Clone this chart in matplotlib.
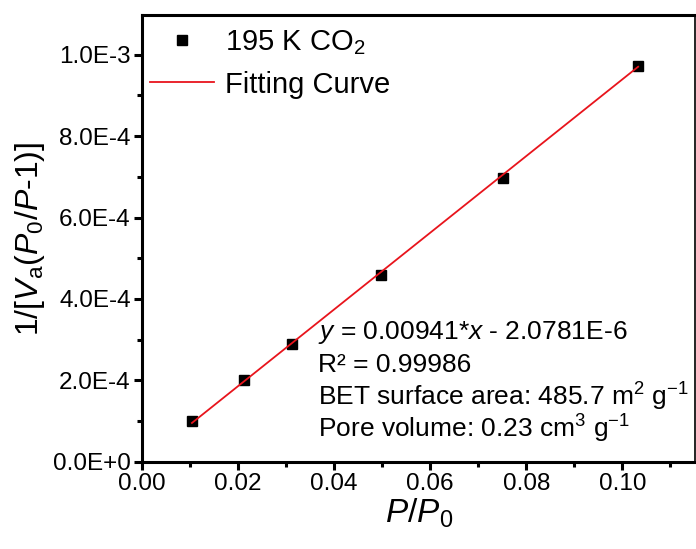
import numpy as np
import matplotlib
matplotlib.use("agg")
import matplotlib.pyplot as plt
from matplotlib.ticker import FuncFormatter, MultipleLocator, AutoMinorLocator

plt.rcParams['font.family'] = ['Liberation Sans', 'DejaVu Sans']
plt.rcParams['mathtext.fontset'] = 'custom'
plt.rcParams['mathtext.rm'] = 'Liberation Sans'
plt.rcParams['mathtext.it'] = 'Liberation Sans:italic'
plt.rcParams['mathtext.bf'] = 'Liberation Sans:bold'

# BET data
p_rel = [0.0104, 0.0213, 0.0313, 0.0498, 0.0752, 0.1033]
bet_y = [1.00e-4, 2.00e-4, 2.90e-4, 4.58e-4, 6.97e-4, 9.72e-4]

slope = 0.00941
intercept = -2.0781e-6

annot_lines = [
    '$y$ = 0.00941*$x$ - 2.0781E-6',
    'R\u00b2 = 0.99986',
    'BET surface area: 485.7 m$^{2}$ g$^{-1}$',
    'Pore volume: 0.23 cm$^{3}$ g$^{-1}$',
]


def sci_fmt(v, pos):
    if abs(v) < 1e-12:
        return '0.0E+0'
    exp = int(np.floor(np.log10(abs(v)) + 1e-9))
    mant = v / 10 ** exp
    return '%.1fE%d' % (mant, exp)


fig = plt.figure(figsize=(6.96, 5.49), dpi=100)
ax = fig.add_axes([0.204, 0.1585, 0.795, 0.8142])

xfit = np.array([p_rel[0], p_rel[-1]])
ax.plot(p_rel, bet_y, 's', color='black', markersize=7, label='195 K CO$_2$', zorder=2)
ax.plot(xfit, slope * xfit + intercept, '-', color='#e8141c', lw=1.3,
        label='Fitting Curve', zorder=3)

ax.set_xlim(0, 0.1152)
ax.set_ylim(0, 1.097e-3)
ax.xaxis.set_major_locator(MultipleLocator(0.02))
ax.xaxis.set_minor_locator(AutoMinorLocator(2))
ax.yaxis.set_major_locator(MultipleLocator(2e-4))
ax.yaxis.set_minor_locator(AutoMinorLocator(2))
ax.xaxis.set_major_formatter(FuncFormatter(lambda v, p: '%.2f' % v))
ax.yaxis.set_major_formatter(FuncFormatter(sci_fmt))

for s in ['left', 'bottom', 'top']:
    ax.spines[s].set_linewidth(2.2)
ax.spines['right'].set_linewidth(1.2)
ax.tick_params(which='major', direction='out', length=6, width=2.2,
               labelsize=17.5, pad=2, top=False, right=False)
ax.tick_params(which='minor', direction='out', length=3.5, width=2.2,
               top=False, right=False)

ax.set_xlabel('$P$/$P$$_0$', fontsize=24, labelpad=1)
ax.set_ylabel('1/[$V$$_\\mathrm{a}$($P$$_0$/$P$-1)]', fontsize=23, labelpad=4)

leg = ax.legend(loc='upper left', bbox_to_anchor=(-0.009, 1.0), frameon=False,
                fontsize=21, handlelength=2.2, handletextpad=0.35,
                borderaxespad=0, borderpad=0.45, labelspacing=0.47)

for i, t in enumerate(annot_lines):
    ax.text(0.318, 0.289 - i * 0.0716, t, transform=ax.transAxes,
            fontsize=19, va='center', ha='left')

plt.savefig('out.png', dpi=100)
